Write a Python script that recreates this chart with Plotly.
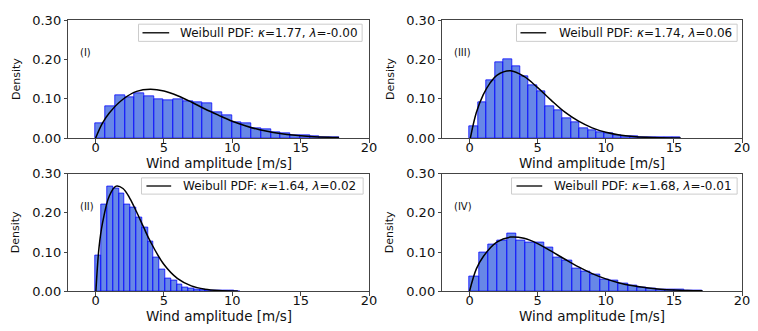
import plotly.graph_objects as go

W, H = 758, 331

# ---------------- data ----------------
panel_labels = ["(I)", "(III)", "(II)", "(IV)"]
kappa_txt = ["1.77", "1.74", "1.64", "1.68"]
lambda_txt = ["-0.00", "0.06", "0.02", "-0.01"]
bin_width = [0.712, 0.62, 0.424, 0.684]

dens_I = [0.037, 0.081, 0.108, 0.103, 0.114, 0.107, 0.098, 0.095, 0.099, 0.093,
          0.090, 0.088, 0.066, 0.059, 0.041, 0.037, 0.024, 0.021, 0.015, 0.011,
          0.008, 0.006, 0.004, 0.003, 0.002]
dens_III = [0.029, 0.090, 0.146, 0.192, 0.200, 0.182, 0.158, 0.134, 0.118, 0.080,
            0.071, 0.049, 0.040, 0.025, 0.019, 0.0146, 0.011, 0.0073, 0.005, 0.004,
            0.003, 0.002, 0.0015, 0.001, 0.0008]
dens_II = [0.091, 0.220, 0.268, 0.263, 0.250, 0.220, 0.213, 0.189, 0.163, 0.127,
           0.085, 0.056, 0.031, 0.028, 0.016, 0.010, 0.007, 0.005, 0.003, 0.002,
           0.0015, 0.001, 0.0008, 0.0005, 0.0003]
dens_IV = [0.037, 0.0985, 0.120, 0.128, 0.146, 0.128, 0.124, 0.123, 0.112, 0.087,
           0.079, 0.058, 0.051, 0.043, 0.0285, 0.027, 0.019, 0.014, 0.010, 0.007,
           0.005, 0.004, 0.003, 0.002, 0.001]

pdf_x_I = [0, 0.5, 1, 2, 3, 4, 5, 6, 7, 8, 9, 10, 11, 12, 13, 14, 15, 16, 17, 17.8]
pdf_y_I = [0, 0.038, 0.064, 0.099, 0.119, 0.1245, 0.120, 0.108, 0.092, 0.074, 0.058,
           0.043, 0.031, 0.021, 0.014, 0.009, 0.0058, 0.0036, 0.0021, 0.0013]
pdf_x_III = [0.06, 0.5, 1, 1.5, 2, 3, 4, 5, 6, 7, 8, 9, 10, 11, 12, 13, 14, 15.5]
pdf_y_III = [0, 0.065, 0.110, 0.140, 0.160, 0.1715, 0.157, 0.1285, 0.096, 0.066,
             0.043, 0.026, 0.0147, 0.0079, 0.004, 0.0019, 0.0008, 0.0002]
pdf_x_II = [0.02, 0.25, 0.5, 1, 1.5, 2, 2.5, 3, 3.5, 4, 5, 6, 7, 8, 9, 10.4]
pdf_y_II = [0, 0.112, 0.173, 0.243, 0.268, 0.262, 0.237, 0.202, 0.164, 0.127, 0.068,
            0.032, 0.0135, 0.0051, 0.0017, 0.0003]
pdf_x_IV = [0, 0.5, 1, 2, 3, 4, 5, 6, 7, 8, 9, 10, 11, 12, 13, 14, 15, 16, 17.1]
pdf_y_IV = [0, 0.057, 0.088, 0.125, 0.138, 0.135, 0.1215, 0.102, 0.0815, 0.062, 0.045,
            0.0315, 0.021, 0.0138, 0.0087, 0.0053, 0.0031, 0.0018, 0.0010]

x_ticks = [0, 5, 10, 15, 20]
y_ticks = [0.0, 0.1, 0.2, 0.3]
x_title = "Wind amplitude [m/s]"
y_title = "Density"
cut_label = "0.30"   # tick label of the next (cropped) row

densities = [dens_I, dens_III, dens_II, dens_IV]
pdf_x = [pdf_x_I, pdf_x_III, pdf_x_II, pdf_x_IV]
pdf_y = [pdf_y_I, pdf_y_III, pdf_y_II, pdf_y_IV]

# ---------------- layout geometry (pixels) ----------------
# panel order: top-left, top-right, bottom-left, bottom-right
ax_px = [(69, 373, 14, 137.3), (447, 750, 14, 137.3),
         (69, 373, 174.5, 297.7), (447, 750, 174.5, 297.7)]
legend_px = [(140, 366, 18, 36, 144, 171, 180),
             (522, 745, 18, 36, 526, 552, 563),
             (143, 367, 179, 196, 148, 173, 183),
             (517, 745, 179, 196, 522, 548, 558)]


def px(x):
    return x / W


def py(y):
    return 1 - y / H


fig = go.Figure()
FONT = "DejaVu Sans, Liberation Sans, sans-serif"
SPINE = "#444444"

annotations = []
shapes = []
for i in range(4):
    xs = "x" if i == 0 else f"x{i+1}"
    ys = "y" if i == 0 else f"y{i+1}"
    w = bin_width[i]
    centers = [(j + 0.5) * w for j in range(len(densities[i]))]
    fig.add_trace(go.Bar(
        x=centers, y=densities[i], width=w,
        marker=dict(color="rgba(65,105,225,0.8)",
                    line=dict(color="rgba(0,0,255,0.75)", width=1)),
        xaxis=xs, yaxis=ys, showlegend=False, hoverinfo="skip"))
    fig.add_trace(go.Scatter(
        x=pdf_x[i], y=pdf_y[i], mode="lines", line_shape="spline",
        line=dict(color="black", width=1.5),
        xaxis=xs, yaxis=ys, showlegend=False, hoverinfo="skip"))

    x0, x1, y0, y1 = ax_px[i]
    ax_common = dict(showline=True, mirror=True, linecolor=SPINE, linewidth=1,
                     ticks="outside", ticklen=3.5, tickcolor=SPINE, showgrid=False,
                     zeroline=False, tickfont=dict(family=FONT, size=13, color="#111"))
    fig.layout[("xaxis" if i == 0 else f"xaxis{i+1}")] = dict(
        domain=[px(x0), px(x1)], range=[-2, 20], tickvals=x_ticks,
        anchor=ys, ticklabelstandoff=-6, **ax_common)
    fig.layout[("yaxis" if i == 0 else f"yaxis{i+1}")] = dict(
        domain=[py(y1), py(y0)], range=[0, 0.30], tickvals=y_ticks,
        tickformat=".2f", anchor=xs, **ax_common)

    # axis titles
    annotations.append(dict(text=x_title, x=px((x0 + x1) / 2), y=py(y1 + 26),
                            xref="paper", yref="paper", showarrow=False,
                            xanchor="center", yanchor="middle",
                            font=dict(family=FONT, size=13.5, color="#111")))
    annotations.append(dict(text=y_title, x=px(x0 - 53), y=py((y0 + y1) / 2),
                            xref="paper", yref="paper", showarrow=False, textangle=-90,
                            xanchor="center", yanchor="middle",
                            font=dict(family=FONT, size=11, color="#111")))
    # panel label
    annotations.append(dict(text=panel_labels[i], x=px(x0 + 10), y=py(y0 + 34),
                            xref="paper", yref="paper", showarrow=False,
                            xanchor="left", yanchor="middle",
                            font=dict(family=FONT, size=10, color="#111")))
    # legend box
    lx0, lx1, ly0, ly1, sx0, sx1, tx = legend_px[i]
    shapes.append(dict(type="rect", xref="paper", yref="paper",
                       x0=px(lx0), x1=px(lx1), y0=py(ly1), y1=py(ly0),
                       line=dict(color="#cccccc", width=1), fillcolor="rgba(255,255,255,0.8)",
                       layer="above"))
    ly = (ly0 + ly1) / 2
    shapes.append(dict(type="line", xref="paper", yref="paper",
                       x0=px(sx0), x1=px(sx1), y0=py(ly), y1=py(ly),
                       line=dict(color="#222222", width=1.5), layer="above"))
    annotations.append(dict(text=f"Weibull PDF: <i>κ</i>={kappa_txt[i]}, <i>λ</i>={lambda_txt[i]}",
                            x=px(tx), y=py(ly), xref="paper", yref="paper",
                            showarrow=False, xanchor="left", yanchor="middle",
                            font=dict(family=FONT, size=12, color="#111")))

# full-page overlay axis (pixel units) used to show the cropped tick labels of the next row
fig.add_trace(go.Scatter(
    x=[62.5, 440.5], y=[336.5, 336.5], mode="text", text=[cut_label, cut_label],
    textposition="middle left", cliponaxis=True,
    textfont=dict(family=FONT, size=13, color="#111"),
    xaxis="x5", yaxis="y5", showlegend=False, hoverinfo="skip"))
fig.layout["xaxis5"] = dict(domain=[0, 1], range=[0, W], visible=False, anchor="y5")
fig.layout["yaxis5"] = dict(domain=[0, 1], range=[H, 0], visible=False, anchor="x5")

fig.update_layout(width=W, height=H, margin=dict(l=0, r=0, t=0, b=0),
                  paper_bgcolor="white", plot_bgcolor="rgba(0,0,0,0)",
                  bargap=0, annotations=annotations, shapes=shapes,
                  font=dict(family=FONT))

fig.write_html("out.html")
